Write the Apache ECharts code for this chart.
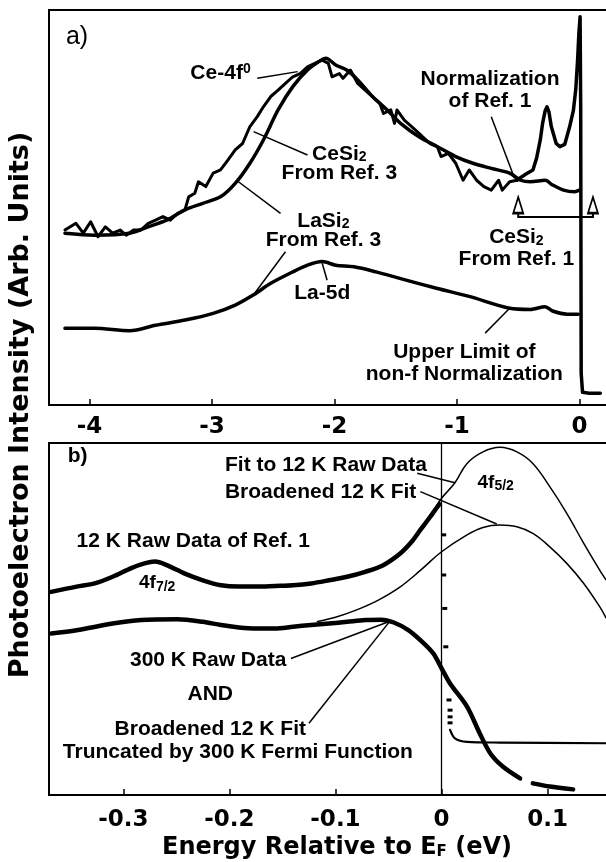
<!DOCTYPE html>
<html><head><meta charset="utf-8">
<script src="https://cdn.jsdelivr.net/npm/echarts@6/dist/echarts.min.js"></script>
<style>html,body{margin:0;padding:0;background:#fff}#c{width:606px;height:862px}</style>
</head><body><div id="c"></div>
<script>
// ---------- data (energy in eV, intensity in arbitrary units 0..100 of each panel) ----------
const xTicksA = [-4, -3, -2, -1, 0];
const xTicksB = [-0.3, -0.2, -0.1, 0, 0.1];

// panel a
const ceSi2Ref3 = [[-4.20,44.3],[-4.11,46.0],[-4.05,43.5],[-3.99,46.4],[-3.93,42.6],[-3.87,45.1],[-3.81,43.5],[-3.75,44.3],[-3.70,43.0],[-3.64,44.3],[-3.58,44.3],[-3.52,46.0],[-3.46,46.8],[-3.40,47.7],[-3.34,46.8],[-3.28,48.5],[-3.22,49.4],[-3.19,52.7],[-3.14,53.6],[-3.11,56.5],[-3.05,55.3],[-2.99,58.7],[-2.93,59.5],[-2.87,62.0],[-2.81,64.6],[-2.75,66.2],[-2.69,70.5],[-2.63,73.0],[-2.58,75.5],[-2.52,78.1],[-2.46,79.7],[-2.40,81.4],[-2.34,83.1],[-2.28,83.9],[-2.22,85.6],[-2.16,86.5],[-2.10,87.3],[-2.05,86.5],[-2.02,83.1],[-1.96,83.9],[-1.93,82.7],[-1.87,84.8],[-1.81,81.4],[-1.75,79.7],[-1.69,78.1],[-1.63,76.4],[-1.60,73.8],[-1.54,74.7],[-1.51,71.3],[-1.49,74.7],[-1.43,72.1],[-1.37,70.5],[-1.31,68.8],[-1.28,67.9],[-1.22,66.2],[-1.16,65.4],[-1.13,62.9],[-1.07,63.7],[-1.01,61.2],[-0.95,56.9],[-0.90,59.5],[-0.84,56.9],[-0.78,55.3],[-0.72,54.4],[-0.66,56.9],[-0.63,54.4],[-0.57,56.5],[-0.51,56.9]];
const laSi2Ref3 = [[-4.20,43.5],[-3.96,43.0],[-3.67,43.5],[-3.52,45.1],[-3.37,46.8],[-3.22,49.4],[-3.08,51.0],[-2.93,52.7],[-2.81,56.1],[-2.69,61.2],[-2.58,67.1],[-2.46,74.7],[-2.34,80.6],[-2.22,84.8],[-2.13,86.9],[-2.07,87.8],[-1.99,86.1],[-1.90,84.8],[-1.81,82.3],[-1.69,78.1],[-1.57,74.7],[-1.46,71.3],[-1.31,67.9],[-1.16,65.4],[-1.01,62.9],[-0.87,61.2],[-0.72,59.9],[-0.57,58.7],[-0.48,56.9],[-0.40,56.5],[-0.28,56.9],[-0.22,55.7],[-0.13,54.4],[-0.04,54.0],[0.00,54.4]];
const ceSi2Ref1 = [[-0.51,56.9],[-0.47,57.8],[-0.43,58.6],[-0.38,59.5],[-0.35,62.5],[-0.32,67.1],[-0.30,71.5],[-0.28,74.5],[-0.265,75.5],[-0.25,74.3],[-0.23,70.5],[-0.19,66.2],[-0.16,65.4],[-0.12,66.0],[-0.08,70.5],[-0.05,74.5],[-0.03,80.0],[-0.015,87.5],[-0.005,94.0],[0.005,98.3],[0.010,75.0],[0.012,40.0],[0.014,8.0],[0.025,3.2],[0.08,3.0],[0.17,3.0]];
const la5d = [[-4.20,19.4],[-3.96,19.4],[-3.67,18.8],[-3.46,20.2],[-3.22,21.5],[-2.99,23.2],[-2.81,25.3],[-2.66,27.9],[-2.52,30.8],[-2.34,33.7],[-2.22,35.4],[-2.10,36.3],[-1.99,35.4],[-1.84,35.0],[-1.66,33.7],[-1.46,32.0],[-1.16,29.5],[-0.90,27.5],[-0.57,24.5],[-0.40,24.2],[-0.28,24.9],[-0.22,23.8],[-0.10,23.0],[-0.01,23.0]];
const normArrows = [[-0.50,50.6],[0.11,50.6]];
const normBracket = [[-0.50,49.2],[-0.50,47.6],[0.11,47.6],[0.11,49.2]];

// panel b
const raw12K = [[-0.368,57.7],[-0.344,59.2],[-0.327,60.1],[-0.310,62.0],[-0.293,64.4],[-0.280,65.8],[-0.270,66.3],[-0.259,65.3],[-0.242,62.9],[-0.225,61.0],[-0.208,59.6],[-0.191,59.2],[-0.174,59.2],[-0.157,59.4],[-0.140,59.6],[-0.123,60.1],[-0.106,61.0],[-0.089,62.0],[-0.072,63.4],[-0.055,65.3],[-0.039,68.6],[-0.028,72.0],[-0.020,75.3],[-0.011,78.9],[-0.006,81.0],[-0.002,82.6]];
const fit12K = [[-0.020,75.8],[-0.010,79.8],[0.000,84.3],[0.0126,88.7],[0.024,94.2],[0.039,97.5],[0.055,98.8],[0.071,97.5],[0.086,94.2],[0.102,87.6],[0.118,80.0],[0.134,71.5],[0.149,63.9],[0.155,61.1]];
const broadened12K = [[-0.117,49.3],[-0.100,50.5],[-0.080,52.6],[-0.060,55.3],[-0.040,58.9],[-0.020,63.8],[0.000,69.1],[0.024,73.9],[0.039,76.0],[0.055,76.7],[0.071,76.2],[0.086,74.3],[0.102,70.5],[0.118,65.8],[0.134,60.1],[0.149,53.5],[0.155,50.3]];
const raw300K = [[-0.368,45.9],[-0.344,46.8],[-0.310,48.7],[-0.283,49.7],[-0.249,49.9],[-0.225,49.2],[-0.208,48.3],[-0.191,47.6],[-0.174,47.3],[-0.157,47.3],[-0.140,47.8],[-0.123,48.3],[-0.106,48.7],[-0.089,49.2],[-0.072,49.7],[-0.057,49.8],[-0.045,49.0],[-0.031,46.8],[-0.020,44.0],[-0.008,40.3],[0.000,36.0],[0.008,31.7],[0.024,25.1],[0.036,17.5],[0.046,11.8],[0.058,8.0],[0.074,4.7]];
const raw300KTail = [[0.086,3.3],[0.102,2.4],[0.124,1.6]];
const flatLine = [[0.008,18.5],[0.0126,16.1],[0.024,15.1],[0.055,14.9],[0.155,14.7]];
const edgeDots = [[0.002,73.9],[0.002,62.5],[0.003,53.0],[0.004,42.1],[0.007,27.0],[0.008,24.1],[0.008,22.2],[0.008,20.5]];

// annotations: [text, energy, intensity]
const notesA = [
  ['Ce-4f{sup|0}', -2.93, 84.1],
  ['Normalization\nof Ref. 1', -0.73, 79.6],
  ['CeSi{sub|2}\nFrom Ref. 3', -1.96, 61.0],
  ['LaSi{sub|2}\nFrom Ref. 3', -2.09, 44.0],
  ['La-5d', -2.10, 28.3],
  ['CeSi{sub|2}\nFrom Ref. 1', -0.515, 39.6],
  ['Upper Limit of\nnon-f Normalization', -0.94, 10.5]
];
const leadersA = [
  [[-2.63,82.7],[-2.30,84.4]],
  [[-0.72,73.0],[-0.53,57.4]],
  [[-2.22,63.3],[-2.66,69.2]],
  [[-2.44,48.5],[-2.80,56.9]],
  [[-2.40,38.8],[-2.66,27.9]],
  [[-2.06,31.6],[-2.10,35.9]],
  [[-0.77,18.2],[-0.57,24.5]]
];
const notesB = [
  ['b)', -0.343, 96.3],
  ['Fit to 12 K Raw Data', -0.109, 93.6],
  ['Broadened 12 K Fit', -0.114, 85.9],
  ['4f{sub|5/2}', 0.051, 88.8],
  ['12 K Raw Data of Ref. 1', -0.234, 72.0],
  ['4f{sub|7/2}', -0.268, 60.2],
  ['300 K Raw Data', -0.220, 38.4],
  ['AND', -0.218, 28.7],
  ['Broadened 12 K Fit', -0.218, 18.7],
  ['Truncated by 300 K Fermi Function', -0.192, 12.3]
];
const leadersB = [
  [[-0.023,91.4],[0.0126,88.7]],
  [[-0.020,86.2],[0.052,77.0]],
  [[-0.142,38.8],[-0.050,49.2]],
  [[-0.125,20.4],[-0.050,48.9]]
];

// ---------- chart ----------
const LAB = '"Liberation Sans", Arial, Helvetica, sans-serif';
const DJ = '"DejaVu Sans", sans-serif';
const chart = echarts.init(document.getElementById('c'));

function curve(data, g, width, smooth, z) {
  return {type:'line', xAxisIndex:g, yAxisIndex:g, data:data, symbol:'none', showSymbol:false,
    smooth:smooth, silent:true, z:z||2, lineStyle:{color:'#000', width:width, join:'round', cap:'round', opacity:1}};
}
function leaders(list, g) {
  return {type:'lines', coordinateSystem:'cartesian2d', xAxisIndex:g, yAxisIndex:g, silent:true, z:5,
    data:list.map(c => ({coords:c})), lineStyle:{color:'#000', width:1.5, opacity:1}};
}
const richStyles = {
  sub:{fontSize:14, fontWeight:'bold', fontFamily:LAB, color:'#000', verticalAlign:'bottom', padding:[4,0,0,0]},
  sup:{fontSize:14, fontWeight:'bold', fontFamily:LAB, color:'#000', verticalAlign:'top'}
};
function notes(list, g) {
  return {type:'scatter', xAxisIndex:g, yAxisIndex:g, symbolSize:0, silent:true, z:10,
    itemStyle:{opacity:1},
    data:list.map(n => {
      const item = {value:[n[1], n[2]], label:{formatter:n[0]}};
      if (n[0].indexOf('4f') === 0) item.label.fontSize = 19;
      if (n[0].indexOf('From Ref. 3') >= 0) item.label.lineHeight = 19;
      return item;
    }),
    label:{show:true, position:'inside', color:'#000', opacity:1, fontFamily:LAB, fontWeight:'bold', fontSize:21,
      lineHeight:22, rich:richStyles}};
}
function xAxisCfg(g, min, max, ticks, margin) {
  return {gridIndex:g, type:'value', min:min, max:max,
    axisLine:{show:true, onZero:false, lineStyle:{color:'#000', width:2}},
    axisTick:{show:true, inside:true, length:6, customValues:ticks, lineStyle:{color:'#000', width:1.5}},
    axisLabel:{show:true, customValues:ticks, margin:margin, color:'#000', fontFamily:DJ, fontWeight:'bold', fontSize:23},
    splitLine:{show:false}};
}

chart.setOption({
  animation:false,
  backgroundColor:'#fff',
  grid:[
    {left:49, top:10, width:560, height:395, outerBoundsMode:'none', containLabel:false, show:true, borderColor:'#000', borderWidth:2, backgroundColor:'transparent'},
    {left:49, top:443, width:560, height:352, outerBoundsMode:'none', containLabel:false, show:true, borderColor:'#000', borderWidth:2, backgroundColor:'transparent'}
  ],
  xAxis:[ xAxisCfg(0, -4.33, 0.241, xTicksA, 11), xAxisCfg(1, -0.37, 0.1578, xTicksB, 14) ],
  yAxis:[
    {gridIndex:0, type:'value', min:0, max:100, show:false},
    {gridIndex:1, type:'value', min:0, max:100, show:false}
  ],
  graphic:[
    {type:'text', x:77, y:37, z:20, style:{text:'a)', fill:'#000', fontSize:25, fontFamily:LAB, fontWeight:'normal', align:'center', verticalAlign:'middle'}},
    {type:'text', x:337, y:848, z:20, style:{text:'Energy Relative to E{s|F} (eV)', fill:'#000', fontSize:24, fontFamily:DJ, fontWeight:'bold', align:'center', verticalAlign:'middle',
      rich:{s:{fontSize:15, fontFamily:DJ, fontWeight:'bold', fill:'#000', verticalAlign:'bottom', padding:[3,0,0,0]}}}},
    {type:'text', x:21, y:405, rotation:Math.PI/2, z:20, style:{text:'Photoelectron Intensity (Arb. Units)', fill:'#000', fontSize:27, fontFamily:DJ, fontWeight:'bold', align:'center', verticalAlign:'middle'}}
  ],
  series:[
    curve(ceSi2Ref3, 0, 3, false, 3),
    curve(laSi2Ref3, 0, 3.5, 0.3, 2),
    curve(ceSi2Ref1, 0, 3.5, false, 3),
    curve(la5d, 0, 3.5, 0.3, 2),
    {type:'lines', coordinateSystem:'cartesian2d', xAxisIndex:0, yAxisIndex:0, polyline:true, silent:true, z:5,
      data:[{coords:normBracket}], lineStyle:{color:'#000', width:2, opacity:1}},
    {type:'scatter', xAxisIndex:0, yAxisIndex:0, data:normArrows, silent:true, z:6,
      symbol:'path://M5,0 L10,16 L0,16 Z', symbolSize:[10,16],
      itemStyle:{color:'#fff', borderColor:'#000', borderWidth:2, opacity:1}},
    leaders(leadersA, 0),
    notes(notesA, 0),

    curve(raw12K, 1, 4.5, 0.3, 3),
    Object.assign(curve(fit12K, 1, 1.5, 0.4, 2), {markLine:{silent:true, symbol:['none','none'], data:[{xAxis:0}],
      label:{show:false}, lineStyle:{color:'#000', width:1.3, type:'solid'}}}),
    curve(broadened12K, 1, 1.5, 0.4, 2),
    curve(raw300K, 1, 4.5, 0.3, 3),
    curve(raw300KTail, 1, 4.5, 0.3, 3),
    curve(flatLine, 1, 2.2, 0.3, 2),
    {type:'scatter', xAxisIndex:1, yAxisIndex:1, data:edgeDots, silent:true, z:4,
      symbol:'rect', symbolSize:[5,3], itemStyle:{color:'#000', opacity:1}},
    leaders(leadersB, 1),
    notes(notesB, 1)
  ]
});
</script></body></html>
